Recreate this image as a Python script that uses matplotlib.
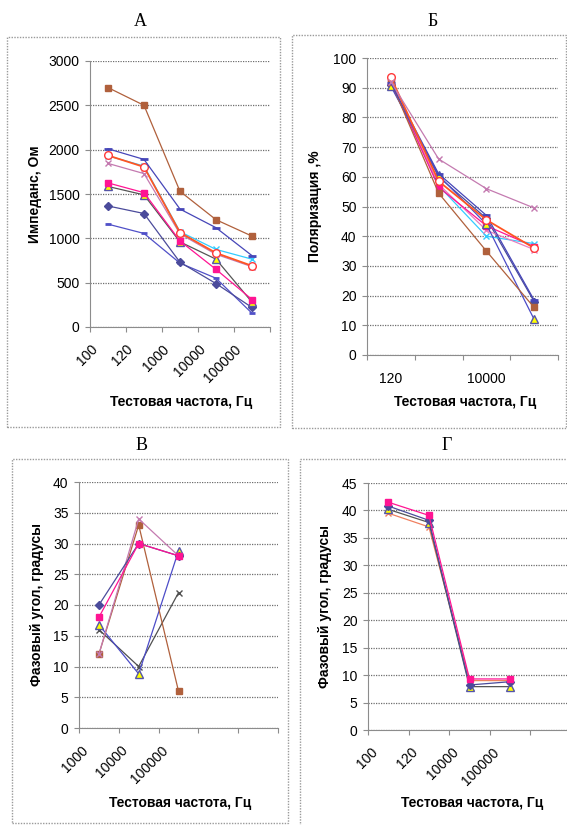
import numpy as np
import matplotlib
matplotlib.use('Agg')
import matplotlib.pyplot as plt
import matplotlib.transforms as mtransforms
from matplotlib.patches import Rectangle

plt.rcParams['font.family'] = ['Liberation Sans', 'DejaVu Sans']

# Panel A - impedance
cats_a = ['100', '120', '1000', '10000', '100000']
a_brown = [2700, 2500, 1530, 1210, 1025]
a_blue = [2010, 1890, 1330, 1120, 805]
a_cyan = [1930, 1815, 1075, 875, 765]
a_orange = [1935, 1805, 1065, 835, 690]
a_orchid = [1845, 1730, 1050, 820, 680]
a_magenta = [1625, 1515, 970, 650, 310]
a_yellow = [1585, 1490, 960, 765, 280]
a_slate = [1365, 1280, 730, 490, 220]
a_navy = [1160, 1055, 720, 550, 155]

# Panel B - polarisation
cats_b = ['120', '1000', '10000', '100000']
b_orchid = [92, 66, 56, 49.5]
b_brown = [92, 54.5, 35, 16]
b_orange = [93.5, 58.5, 45.5, 36]
b_blue = [91.5, 61, 47, 18.5]
b_yellow = [90.5, 60.5, 44, 12]
b_cyan = [92, 57, 40, 37.5]
b_magenta = [92, 56.5, 43.5, 36.5]
b_slate = [91, 60, 46, 18]
b_pink = [92, 57.5, 42, 35.5]

# Panel V - phase angle
cats_v = ['1000', '10000', '100000', '', '']
v_slate = [20, 30, 28]
v_magenta = [18, 30, 28]
v_brown = [12, 33, 6]
v_orchid = [12, 34, 28]
v_yellow = [16.8, 8.8, 28.8]
v_gray = [16, 10, 22]

# Panel G - phase angle
cats_g = ['100', '120', '10000', '100000', '']
g_magenta = [41.5, 39.1, 9.3, 9.3]
g_slate = [40.8, 38.2, 8.2, 8.8]
g_yellow = [40.2, 37.8, 7.9, 7.9]
g_salmon = [39.5, 37.0, 9.0, 9.0]

STY = {
    'brown': dict(color='#b0603c', marker='s', ms=4.5),
    'blue': dict(color='#4646b8', marker='_', ms=6, mew=2),
    'cyan': dict(color='#33ccff', marker='x', ms=5),
    'orange': dict(color='#ff5522', marker='o', mfc='white', mec='#ff3a3a', ms=5.5, lw=1.3),
    'orchid': dict(color='#c47ab0', marker='x', ms=5),
    'magenta': dict(color='#ff1493', marker='s', ms=4.5),
    'yellow': dict(color='#555555', marker='^', mfc='#ffff00', mec='#5555a8', ms=5.5),
    'yellow_b': dict(color='#4c4cc8', marker='^', mfc='#ffff00', mec='#5555a8', ms=5.5),
    'slate': dict(color='#4b4b9b', marker='D', ms=4.5),
    'navy': dict(color='#5050c8', marker='_', ms=4, mew=2),
    'gray': dict(color='#505050', marker='x', ms=5),
    'pink': dict(color='#e880c0', marker='x', ms=4),
    'salmon': dict(color='#f08060', marker='x', ms=5),
}

W, H = 567, 825
fig = plt.figure(figsize=(W / 100, H / 100), dpi=100)
fig.patch.set_facecolor('white')


def rect(l, t, r, b):
    return [l / W, 1 - b / H, (r - l) / W, (b - t) / H]


def box(l, t, r, b):
    fig.add_artist(Rectangle((l / W, 1 - b / H), (r - l) / W, (b - t) / H,
                             transform=fig.transFigure, fill=False,
                             ec='#9a9a9a', lw=1, ls=(0, (1, 1))))


def setup(ax, cats, ymax, ystep, rotate=True, every=1):
    n = len(cats)
    ax.set_xlim(-0.5, n - 0.5)
    ax.set_ylim(0, ymax)
    ax.set_yticks(np.arange(0, ymax + 1, ystep))
    # tick marks on category boundaries, labels on category centres
    ax.set_xticks(np.arange(n + 1) - 0.5)
    ax.set_xticklabels([])
    shown = [c if i % every == 0 else '' for i, c in enumerate(cats)]
    ax.set_xticks(np.arange(n), shown, minor=True)
    ax.yaxis.grid(True, color='#6e6e6e', ls=(0, (1, 1)), lw=0.9)
    ax.set_axisbelow(True)
    for s in ['top', 'right']:
        ax.spines[s].set_visible(False)
    for s in ['left', 'bottom']:
        ax.spines[s].set_color('#8c8c8c')
    ax.tick_params(which='major', direction='out', length=3.5,
                   color='#8c8c8c', labelsize=10, pad=4)
    ax.tick_params(axis='x', which='minor', length=0, labelsize=10,
                   pad=(11 if rotate else 12))
    if rotate:
        off = mtransforms.ScaledTranslation(-0.08, 0, fig.dpi_scale_trans)
        for lab in ax.get_xticklabels(minor=True):
            lab.set_rotation(45)
            lab.set_ha('right')
            lab.set_va('top')
            lab.set_transform(lab.get_transform() + off)


def series(ax, values, key):
    kw = dict(STY[key])
    lw = kw.pop('lw', 0.9)
    ax.plot(np.arange(len(values)), values, lw=lw, **kw)


def labels(title, tx, ylab, yx, yy, xx, xy, ty=22):
    fig.text(tx / W, 1 - ty / H, title, family='Liberation Serif', fontsize=13,
             ha='center', va='center')
    fig.text(yx / W, 1 - yy / H, ylab, rotation=90, fontweight='bold',
             fontsize=10, ha='center', va='center')
    fig.text(xx / W, 1 - xy / H, 'Тестовая частота, Гц', fontweight='bold',
             fontsize=10, ha='center', va='center')


# ---- A
box(7, 37, 280, 427)
ax = fig.add_axes(rect(90, 61, 270, 327))
setup(ax, cats_a, 3000, 500)
for vals, key in [(a_navy, 'navy'), (a_slate, 'slate'), (a_yellow, 'yellow'),
                  (a_magenta, 'magenta'), (a_orchid, 'orchid'), (a_cyan, 'cyan'),
                  (a_orange, 'orange'), (a_blue, 'blue'), (a_brown, 'brown')]:
    series(ax, vals, key)
labels('А', 140, 'Импеданс, Ом', 35, 194, 181, 402)

# ---- B
box(292, 35, 566, 428)
ax = fig.add_axes(rect(367, 58, 558, 355))
setup(ax, cats_b, 100, 10, rotate=False, every=2)
for vals, key in [(b_slate, 'slate'), (b_cyan, 'cyan'), (b_pink, 'pink'),
                  (b_magenta, 'magenta'), (b_yellow, 'yellow_b'), (b_brown, 'brown'),
                  (b_blue, 'blue'), (b_orange, 'orange'), (b_orchid, 'orchid')]:
    series(ax, vals, key)
labels('Б', 433, 'Поляризация ,%', 315, 206, 465, 402)

# ---- V
box(12, 459, 288, 823)
ax = fig.add_axes(rect(79, 482, 278, 728))
setup(ax, cats_v, 40, 5)
for vals, key in [(v_gray, 'gray'), (v_yellow, 'yellow_b'), (v_brown, 'brown'),
                  (v_orchid, 'orchid'), (v_slate, 'slate'), (v_magenta, 'magenta')]:
    series(ax, vals, key)
labels('В', 142, 'Фазовый угол, градусы', 37, 605, 180, 803, ty=445)

# ---- G
box(300, 459, 580, 840)
ax = fig.add_axes(rect(368, 483, 571, 730))
setup(ax, cats_g, 45, 5)
for vals, key in [(g_salmon, 'salmon'), (g_yellow, 'yellow'),
                  (g_slate, 'slate'), (g_magenta, 'magenta')]:
    series(ax, vals, key)
labels('Г', 447, 'Фазовый угол, градусы', 325, 606, 472, 803, ty=445)

fig.savefig('out.png', dpi=100)
